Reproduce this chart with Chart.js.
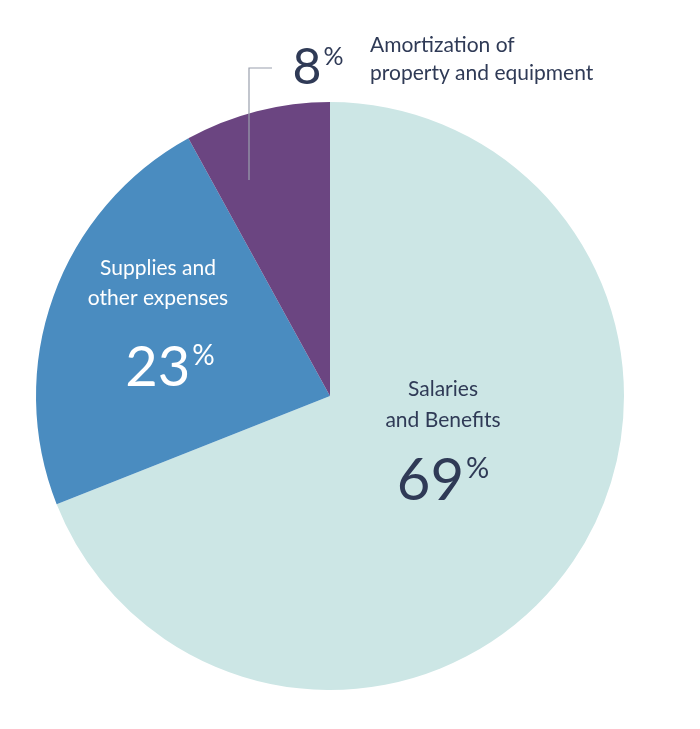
<!DOCTYPE html>
<html lang="en">
<head>
<meta charset="UTF-8">
<title>Expenses</title>
<script src="https://cdn.jsdelivr.net/npm/chart.js"></script>
<style>
  body { margin: 0; background: #fff; }
  canvas { display: block; }
</style>
</head>
<body>
<canvas id="pie" width="700" height="729"></canvas>
<script>
  const categories = ['Salaries and Benefits', 'Supplies and other expenses', 'Amortization of property and equipment'];
  const shares = [69, 23, 8];
  const colors = ['#cce6e5', '#4a8cc0', '#6b4581'];

  const navy = '#2f3a56';
  const font = 'Lato, "Open Sans", sans-serif';

  // draw a number with a small raised % sign
  function pct(ctx, value, x, y, size, color) {
    ctx.fillStyle = color;
    ctx.font = size + 'px ' + font;
    const num = String(value);
    const w = ctx.measureText(num).width;
    ctx.font = Math.round(size * 0.5) + 'px ' + font;
    const pw = ctx.measureText('%').width;
    const left = x - (w + pw + 2) / 2;
    ctx.textAlign = 'left';
    ctx.textBaseline = 'alphabetic';
    ctx.font = size + 'px ' + font;
    ctx.fillText(num, left, y);
    ctx.font = Math.round(size * 0.5) + 'px ' + font;
    ctx.fillText('%', left + w + 2, y - size * 0.38);
  }

  const labels = {
    id: 'labels',
    afterDraw(chart) {
      const ctx = chart.ctx;
      ctx.save();
      // Salaries
      ctx.fillStyle = navy;
      ctx.font = '21px ' + font;
      ctx.textAlign = 'center';
      ctx.fillText('Salaries', 443, 396);
      ctx.fillText('and Benefits', 443, 427);
      pct(ctx, shares[0], 443, 500, 58, navy);
      // Supplies
      ctx.fillStyle = '#fff';
      ctx.font = '21px ' + font;
      ctx.textAlign = 'center';
      ctx.fillText('Supplies and', 158, 275);
      ctx.fillText('other expenses', 158, 305);
      pct(ctx, shares[1], 170, 386, 56, '#fff');
      // Amortization
      pct(ctx, shares[2], 318, 84, 50, navy);
      ctx.fillStyle = navy;
      ctx.font = '21px ' + font;
      ctx.textAlign = 'left';
      ctx.fillText('Amortization of', 370, 52);
      ctx.fillText('property and equipment', 370, 80);
      ctx.strokeStyle = '#9aa0ad';
      ctx.lineWidth = 1.2;
      ctx.beginPath();
      ctx.moveTo(272, 68);
      ctx.lineTo(249, 68);
      ctx.lineTo(249, 180);
      ctx.stroke();
      ctx.restore();
    }
  };

  new Chart(document.getElementById('pie'), {
    type: 'pie',
    data: {
      labels: categories,
      datasets: [{ data: shares, backgroundColor: colors, borderWidth: 0 }]
    },
    options: {
      responsive: false,
      animation: false,
      layout: { padding: { left: 36, right: 76, top: 102, bottom: 39 } },
      plugins: { legend: { display: false }, tooltip: { enabled: false } }
    },
    plugins: [labels]
  });
</script>
</body>
</html>
